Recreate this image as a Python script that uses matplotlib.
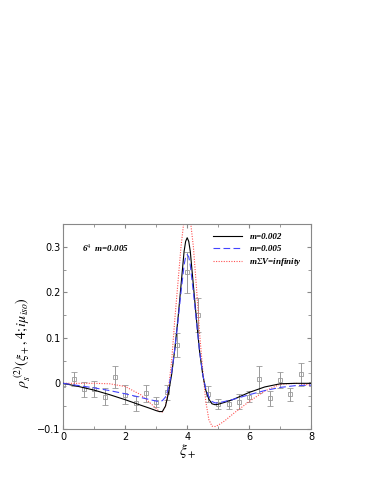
import matplotlib
matplotlib.use("Agg")
import matplotlib.pyplot as plt
from matplotlib.ticker import MultipleLocator

# lattice data points (xi_+, rho, error)
data_x = [0.0, 0.333, 0.667, 1.0, 1.333, 1.667, 2.0, 2.333, 2.667, 3.0, 3.333, 3.667,
          4.0, 4.333, 4.667, 5.0, 5.333, 5.667, 6.0, 6.333, 6.667, 7.0, 7.333, 7.667, 8.0]
data_y = [-0.003, 0.010, -0.013, -0.013, -0.029, 0.013, -0.025, -0.044, -0.022, -0.041,
          -0.020, 0.084, 0.244, 0.150, -0.023, -0.046, -0.046, -0.040, -0.029, 0.009,
          -0.033, 0.007, -0.024, 0.020, -0.002]
data_err = [0.002, 0.015, 0.016, 0.018, 0.019, 0.024, 0.021, 0.017, 0.019, 0.010,
            0.017, 0.027, 0.045, 0.038, 0.017, 0.011, 0.010, 0.016, 0.013, 0.030,
            0.017, 0.018, 0.014, 0.025, 0.025]

# curve sample points
curve_x = [0.0, 0.5, 1.0, 1.5, 2.0, 2.5, 2.8, 3.0, 3.1, 3.2, 3.3, 3.4, 3.5, 3.6, 3.7,
           3.8, 3.9, 3.95, 4.0, 4.05, 4.1, 4.2, 4.3, 4.4, 4.5, 4.6, 4.7, 4.8, 4.9, 5.0,
           5.2, 5.5, 6.0, 6.5, 7.0, 7.5, 8.0]
m002 = [0.0, -0.007, -0.015, -0.025, -0.036, -0.048, -0.055, -0.060, -0.062, -0.062,
        -0.050, -0.020, 0.020, 0.075, 0.140, 0.215, 0.290, 0.312, 0.320, 0.312, 0.290,
        0.215, 0.140, 0.070, 0.020, -0.015, -0.035, -0.045, -0.047, -0.046,
        -0.042, -0.035, -0.020, -0.008, -0.001, 0.0, 0.0]
m005 = [0.0, -0.005, -0.010, -0.016, -0.023, -0.031, -0.036, -0.039, -0.040, -0.038,
        -0.030, -0.010, 0.025, 0.075, 0.135, 0.200, 0.260, 0.278, 0.283, 0.278, 0.260,
        0.200, 0.135, 0.070, 0.020, -0.012, -0.030, -0.040, -0.043, -0.043,
        -0.040, -0.035, -0.025, -0.016, -0.009, -0.005, -0.004]
minf = [0.0, 0.0, 0.0, -0.001, -0.007, -0.025, -0.043, -0.055, -0.062, -0.063,
        -0.050, -0.010, 0.050, 0.140, 0.220, 0.300, 0.360, 0.378, 0.385, 0.378, 0.360,
        0.300, 0.210, 0.110, 0.030, -0.040, -0.080, -0.094, -0.095, -0.092,
        -0.083, -0.066, -0.040, -0.017, -0.002, 0.0, -0.004]

legend_labels = ["m=0.002", "m=0.005", r"m$\Sigma$V=infinity"]

plt.rcParams["mathtext.fontset"] = "stix"

fig = plt.figure(figsize=(3.74, 4.84), dpi=100)
ax = fig.add_axes([0.169, 0.114, 0.663, 0.423])

ax.errorbar(data_x, data_y, yerr=data_err, fmt="s", color="#999999", ms=2.5,
            mfc="none", mew=0.6, elinewidth=0.7, capsize=2.5, capthick=0.7, zorder=1)
ax.plot(curve_x, m002, color="black", lw=0.8, label=legend_labels[0], zorder=3)
ax.plot(curve_x, m005, color="#4444ff", lw=0.8, ls=(0, (6, 3)), label=legend_labels[1], zorder=3)
ax.plot(curve_x, minf, color="#ff5050", lw=0.8, ls=(0, (1, 1.3)), label=legend_labels[2], zorder=2)

ax.set_xlim(0, 8)
ax.set_ylim(-0.1, 0.35)
ax.xaxis.set_major_locator(MultipleLocator(2))
ax.xaxis.set_minor_locator(MultipleLocator(1))
ax.yaxis.set_major_locator(MultipleLocator(0.1))
ax.yaxis.set_minor_locator(MultipleLocator(0.05))
ax.tick_params(which="both", direction="in", top=True, right=True, labelsize=7,
               color="#888888", pad=2)
ax.tick_params(which="major", length=3)
ax.tick_params(which="minor", length=2)
for sp in ax.spines.values():
    sp.set_color("#888888")
    sp.set_linewidth(0.8)

ax.yaxis.set_major_formatter(plt.FuncFormatter(
    lambda v, p: "0" if abs(v) < 1e-9 else ("%g" % v).replace("-", "\u2212")))

ax.set_xlabel(r"$\xi_+$", fontsize=11, labelpad=0)
ax.set_ylabel(r"$\rho_s^{\ (2)}(\xi_+,\mathbf{\mathit{4}};i\mu_{iso})$", fontsize=10, labelpad=2)
ax.yaxis.set_label_coords(-0.12, 0.42)

ax.text(0.6, 0.288, r"6$^4$  m=0.005", fontsize=6.5, fontstyle="italic",
        fontweight="bold", family="Liberation Serif")

ax.legend(loc="upper right", frameon=False, handlelength=3.2,
          labelspacing=0.35, borderaxespad=0.6,
          prop={"family": "Liberation Serif", "style": "italic",
                "weight": "bold", "size": 6.5})

fig.savefig("out.png", dpi=100)
